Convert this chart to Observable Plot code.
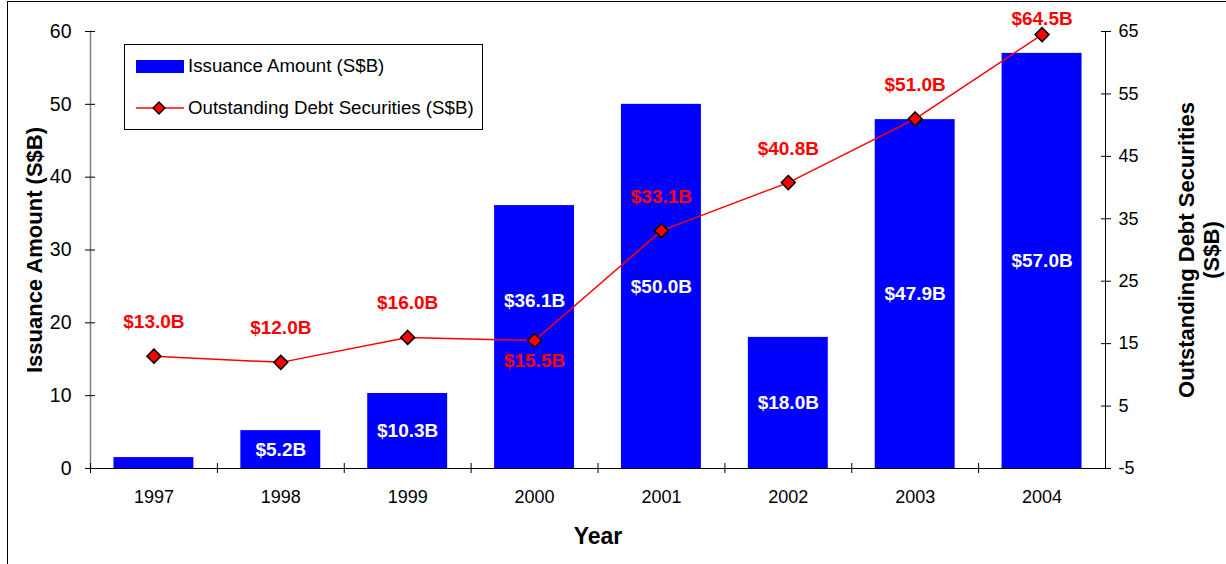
<!DOCTYPE html>
<html><head><meta charset="utf-8">
<script src="https://cdn.jsdelivr.net/npm/d3@7"></script>
<script src="https://cdn.jsdelivr.net/npm/@observablehq/plot@0.6"></script>
<style>
body{margin:0;background:#fff;}
#wrap{position:relative;width:1226px;height:564px;overflow:hidden;font-family:"Liberation Sans",Arial,sans-serif;}
#frame{position:absolute;left:7px;top:1px;width:1400px;height:800px;border-left:1px solid #000;border-top:1px solid #000;pointer-events:none;}
#legend{position:absolute;left:124px;top:44px;width:357px;height:84px;border:1px solid #000;background:#fff;font-size:18.7px;color:#000;}
#legend .row{position:absolute;left:10px;display:flex;align-items:center;}
#legend svg{margin-right:4px;}
#chart{position:absolute;left:0;top:0;}
</style>
</head><body>
<div id="wrap">
<div id="chart"></div>
<div id="frame"></div>
<div id="legend">
  <div class="row" style="top:10px"><svg width="49" height="22"><rect x="1" y="5" width="48" height="13" fill="#0000FF"/></svg><span>Issuance Amount (S$B)</span></div>
  <div class="row" style="top:52px"><svg width="49" height="22"><line x1="1" x2="49" y1="11" y2="11" stroke="#FF0000" stroke-width="1.5"/><path d="M24,5 L30,11 L24,17 L18,11 Z" fill="#FF0000" stroke="#000" stroke-width="1.3"/></svg><span>Outstanding Debt Securities (S$B)</span></div>
</div>
</div>
<script>
const years = ["1997","1998","1999","2000","2001","2002","2003","2004"];
const issuance = [1.5, 5.2, 10.3, 36.1, 50.0, 18.0, 47.9, 57.0];
const issuanceLabels = ["", "$5.2B", "$10.3B", "$36.1B", "$50.0B", "$18.0B", "$47.9B", "$57.0B"];
const outstanding = [13.0, 12.0, 16.0, 15.5, 33.1, 40.8, 51.0, 64.5];
const outstandingLabels = ["$13.0B", "$12.0B", "$16.0B", "$15.5B", "$33.1B", "$40.8B", "$51.0B", "$64.5B"];
const leftTicks = [0, 10, 20, 30, 40, 50, 60];
const rightTicks = [-5, 5, 15, 25, 35, 45, 55, 65];
const leftTitle = "Issuance Amount (S$B)";
const rightTitle = "Outstanding Debt Securities\n(S$B)";
const xTitle = "Year";

// right axis (-5..65) mapped onto left axis (0..60)
const toLeft = r => (r + 5) * 60 / 70;
const toRight = l => l * 70 / 60 - 5;

const data = years.map((year, i) => ({
  year, issuance: issuance[i], issuanceLabel: issuanceLabels[i],
  outstanding: outstanding[i], outstandingLabel: outstandingLabels[i]
}));

const W = 1226, H = 564, ml = 90, mr = 121, mt = 31, mb = 96;
const step = (W - ml - mr) / years.length;
const arial = "'Liberation Sans',Arial,sans-serif";
const blank = () => "";

const chart = Plot.plot({
  width: W, height: H,
  marginLeft: ml, marginRight: mr, marginTop: mt, marginBottom: mb,
  style: {fontFamily: arial, background: "#fff", color: "#000", overflow: "visible"},
  x: {domain: years, paddingInner: 0.37, paddingOuter: 0.185, round: false, axis: null},
  y: {domain: [0, 60], axis: null},
  marks: [
    Plot.barY(data, {x: "year", y: "issuance", fill: "#0000FF"}),
    // left axis
    Plot.frame({anchor: "left", stroke: "#808080", strokeWidth: 1.5}),
    Plot.axisY(leftTicks, {anchor: "left", tickSize: 10, dx: 5, tickFormat: blank, label: null, stroke: "#000"}),
    Plot.axisY(leftTicks, {anchor: "left", tickSize: 0, tickPadding: 19, fontSize: 19.5, label: null}),
    // right axis
    Plot.frame({anchor: "right", stroke: "#000"}),
    Plot.axisY(rightTicks.map(toLeft), {anchor: "right", tickSize: 10, dx: -5, tickFormat: blank, label: null, stroke: "#000"}),
    Plot.axisY(rightTicks.map(toLeft), {anchor: "right", tickSize: 0, tickPadding: 13, fontSize: 18, label: null,
      tickFormat: d => String(Math.round(toRight(d)))}),
    // bottom axis
    Plot.frame({anchor: "bottom", stroke: "#000"}),
    Plot.axisX({anchor: "bottom", tickSize: 10, dy: -5, dx: -step / 2, tickFormat: blank, label: null, stroke: "#000"}),
    Plot.axisX({anchor: "bottom", tickSize: 0, tickPadding: 22, fontSize: 18, label: null}),
    // line series
    Plot.line(data, {x: "year", y: d => toLeft(d.outstanding), stroke: "#FF0000", strokeWidth: 1.5}),
    Plot.dot(data, {x: "year", y: d => toLeft(d.outstanding), symbol: "diamond2", r: 6.3,
      fill: "#FF0000", stroke: "#000", strokeWidth: 1.5}),
    // bar value labels
    Plot.text(data.filter(d => d.issuanceLabel && d.year !== "2000"), {x: "year", y: d => d.issuance / 2,
      text: "issuanceLabel", fill: "#fff", fontWeight: "bold", fontSize: 19}),
    Plot.text(data.filter(d => d.year === "2000"), {x: "year", y: d => d.issuance / 2, dy: -36,
      text: "issuanceLabel", fill: "#fff", fontWeight: "bold", fontSize: 19}),
    // line value labels
    Plot.text(data.filter(d => d.year !== "2000" && d.year !== "2004"), {x: "year", y: d => toLeft(d.outstanding), dy: -34,
      text: "outstandingLabel", fill: "#FF0000", fontWeight: "bold", fontSize: 19}),
    Plot.text(data.filter(d => d.year === "2000"), {x: "year", y: d => toLeft(d.outstanding), dy: 20,
      text: "outstandingLabel", fill: "#FF0000", fontWeight: "bold", fontSize: 19}),
    Plot.text(data.filter(d => d.year === "2004"), {x: "year", y: d => toLeft(d.outstanding), dy: -16,
      text: "outstandingLabel", fill: "#FF0000", fontWeight: "bold", fontSize: 19}),
    // titles
    Plot.text([leftTitle], {frameAnchor: "left", dx: -56, rotate: -90, textAnchor: "middle", lineAnchor: "middle",
      fontSize: 22, fontWeight: "bold", fill: "#000"}),
    Plot.text([rightTitle], {frameAnchor: "right", dx: 93, rotate: -90, textAnchor: "middle", lineAnchor: "middle",
      fontSize: 22, fontWeight: "bold", fill: "#000", lineHeight: 1.15}),
    Plot.text([xTitle], {frameAnchor: "bottom", dy: 68, lineAnchor: "middle", fontSize: 23, fontWeight: "bold", fill: "#000"})
  ]
});
document.getElementById("chart").appendChild(chart);
</script>
</body></html>
